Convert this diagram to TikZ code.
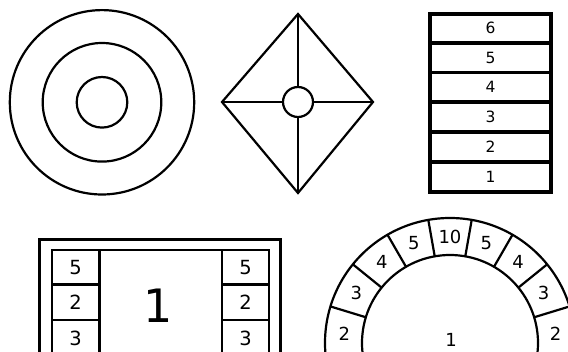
\documentclass[tikz,border=0pt]{standalone}
\usepackage{fontspec}
\setmainfont{DejaVu Sans}
\usetikzlibrary{calc}
\begin{document}
\begin{tikzpicture}[x=1pt,y=-1pt,
  thinline/.style={draw=black,line width=2.2pt},
  thickline/.style={draw=black,line width=3.8pt},
  stacklbl/.style={inner sep=0pt,font=\fontsize{15.5}{16}\selectfont},
  boxlbl/.style={inner sep=0pt,font=\fontsize{19.5}{20}\selectfont},
  archlbl/.style={inner sep=0pt,font=\fontsize{18}{19}\selectfont},
  biglbl/.style={inner sep=0pt,font=\fontsize{46}{47}\selectfont}]
\useasboundingbox (0,0) rectangle (568,352);
\clip (0,0) rectangle (568,352);
\fill[white] (0,0) rectangle (568,352);

% concentric circles
\coordinate (cc) at (102,102.3);
\draw[thinline] (cc) circle[radius=92.2pt];
\draw[thinline] (cc) circle[radius=59.3pt];
\draw[thinline] (cc) circle[radius=25.3pt];

% diamond
\coordinate (dt) at (298,14);
\coordinate (db) at (298,193);
\coordinate (dl) at (222,102);
\coordinate (dr) at (373,102);
\node[thinline,circle,minimum size=30pt,inner sep=0pt] (dc) at (298,102) {};
\draw[thinline,line join=miter] (dt) -- (dr) -- (db) -- (dl) -- cycle;
\draw[thinline] (dt) -- (dc.north);
\draw[thinline] (db) -- (dc.south);
\draw[thinline] (dl) -- (dc.west);
\draw[thinline] (dr) -- (dc.east);

% stack
\draw[thickline] (430,14) rectangle (551,192);
\foreach \yy in {43,72.5,102,132,162}{\draw[thickline] (430,\yy) -- (551,\yy);}
\node[stacklbl] (s6) at (490.5,28.2) {6};
\node[stacklbl] (s5) at (490.5,57.5) {5};
\node[stacklbl] (s4) at (490.5,87.2) {4};
\node[stacklbl] (s3) at (490.5,117) {3};
\node[stacklbl] (s2) at (490.5,147) {2};
\node[stacklbl] (s1) at (490.5,177) {1};

% bottom-left frame
\draw[thinline] (39.5,380) -- (39.5,239.5) -- (280.5,239.5) -- (280.5,380);
\draw[thinline] (52,380) -- (52,250) -- (269,250) -- (269,380);
\draw[thinline] (99.5,250) -- (99.5,380);
\draw[thinline] (222,250) -- (222,380);
\foreach \yy in {284.5,320}{
  \draw[thinline] (52,\yy) -- (99.5,\yy);
  \draw[thinline] (222,\yy) -- (269,\yy);}
\node[boxlbl] (l5) at (75.7,267.5) {5};
\node[boxlbl] (l2) at (75.7,302.5) {2};
\node[boxlbl] (l3) at (75.7,338) {3};
\node[boxlbl] (r5) at (245.5,267.5) {5};
\node[boxlbl] (r2) at (245.5,302.5) {2};
\node[boxlbl] (r3) at (245.5,338) {3};
\node[biglbl] (big) at (158,306) {1};

% arch
\coordinate (ac) at (450,343);
\draw[thinline] (ac) circle[radius=125pt];
\draw[thinline] (ac) circle[radius=88pt];
\foreach \t in {10,30,51,73}{
  \draw[thinline] ([shift={(-90+\t:88)}]ac) -- ([shift={(-90+\t:125)}]ac);
  \draw[thinline] ([shift={(-90-\t:88)}]ac) -- ([shift={(-90-\t:125)}]ac);}
\node[archlbl] (a10) at ([shift={(-90:106)}]ac) {10};
\node[archlbl] (a5l) at ([shift={(-110:106)}]ac) {5};
\node[archlbl] (a5r) at ([shift={(-70:106)}]ac) {5};
\node[archlbl] (a4l) at ([shift={(-130:106)}]ac) {4};
\node[archlbl] (a4r) at ([shift={(-50:106)}]ac) {4};
\node[archlbl] (a3l) at ([shift={(-152:106)}]ac) {3};
\node[archlbl] (a3r) at ([shift={(-28:106)}]ac) {3};
\node[archlbl] (a2l) at ([shift={(-175:106)}]ac) {2};
\node[archlbl] (a2r) at ([shift={(-5:106)}]ac) {2};
\node[archlbl] (a1) at (451,340) {1};
\end{tikzpicture}
\end{document}
